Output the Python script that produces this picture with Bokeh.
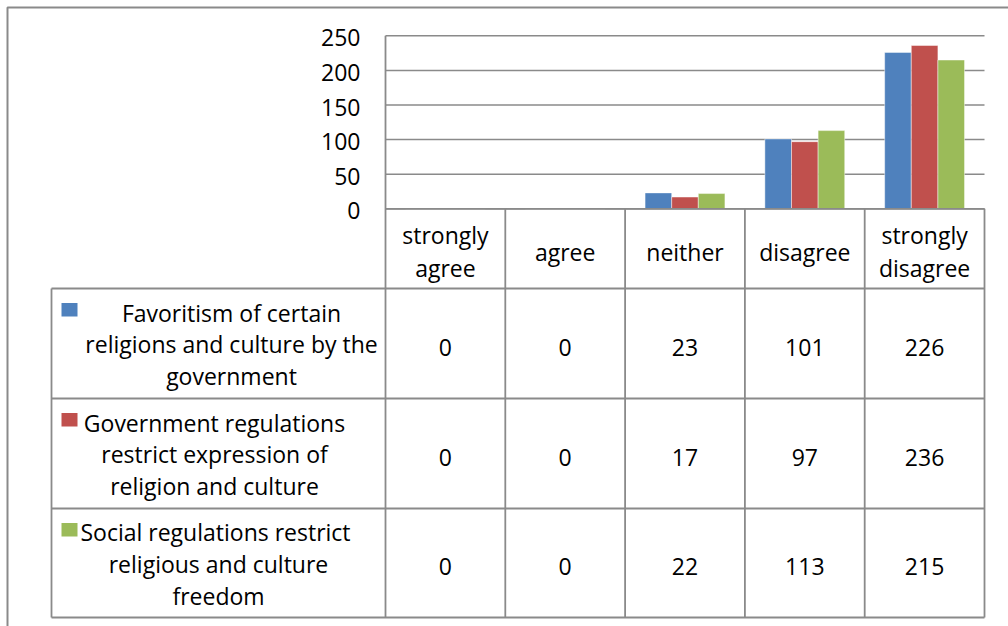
from bokeh.plotting import figure
from bokeh.models import Range1d
from bokeh.core.properties import value
from bokeh.embed import file_html
from bokeh.resources import INLINE

# ---------------- data ----------------
categories = ["strongly\nagree", "agree", "neither", "disagree", "strongly\ndisagree"]
series_labels = [
    "Favoritism of certain\nreligions and culture by the\ngovernment",
    "Government regulations\nrestrict expression of\nreligion and culture",
    "Social regulations  restrict\nreligious and culture\nfreedom",
]
favoritism = [0, 0, 23, 101, 226]
gov_regulations = [0, 0, 17, 97, 236]
social_regulations = [0, 0, 22, 113, 215]
y_ticks = [0, 50, 100, 150, 200, 250]
colors = ["#4F81BD", "#C0504D", "#9BBB59"]

series_values = [favoritism, gov_regulations, social_regulations]

# ---------------- layout (pixels) ----------------
W, H = 1008, 626
PX_LEFT = 385.0      # left edge of plot area (category 0 start)
CAT_W = 119.8        # pixel width per category
PX_ZERO = 208.3      # pixel row of value 0
PX_PER_VAL = 0.692   # pixels per unit value

def fx(px):
    return (px - PX_LEFT) / CAT_W

def fy(py):
    return (PX_ZERO - py) / PX_PER_VAL

FONT = value("Open Sans")
FS = "23px"
LINE = "#8a8a8a"
TXT = "#000000"
LH_HEAD = 1.04
LH_LABEL = 0.985

p = figure(width=W, height=H, output_backend="svg", toolbar_location=None,
           x_range=Range1d(fx(0), fx(W)), y_range=Range1d(fy(H), fy(0)),
           x_axis_type=None, y_axis_type=None, min_border=0,
           outline_line_color=None, background_fill_color="white",
           border_fill_color="white")
p.grid.visible = False

n_cat = len(categories)
n_ser = len(series_values)

# gridlines
p.segment(x0=[0] * len(y_ticks), x1=[n_cat] * len(y_ticks), y0=y_ticks, y1=y_ticks,
          line_color=LINE, line_width=1.5)

# y tick labels
p.text(x=[fx(360)] * len(y_ticks), y=y_ticks, text=[str(t) for t in y_ticks],
       text_align="right", text_baseline="middle", text_font=FONT,
       text_font_size=FS, text_color=TXT, y_offset=2)

# bars
bar_w = (CAT_W / 4.5) / CAT_W
for s, vals in enumerate(series_values):
    off = (s - (n_ser - 1) / 2) * bar_w
    p.vbar(x=[i + 0.5 + off for i in range(n_cat)], width=bar_w, top=vals, bottom=0,
           fill_color=colors[s], line_color="white", line_alpha=0.45, line_width=1)

# ---------------- data table ----------------
row_edges_px = [288, 398, 508, 617]
legend_left_px = 51

# category axis line (value 0), drawn over bars
p.segment(x0=[0], x1=[n_cat], y0=[0], y1=[0], line_color=LINE, line_width=1.8)

# horizontal lines of table
hx0 = [fx(legend_left_px)] * len(row_edges_px)
hx1 = [n_cat] * len(row_edges_px)
p.segment(x0=hx0, x1=hx1, y0=[fy(r) for r in row_edges_px], y1=[fy(r) for r in row_edges_px],
          line_color=LINE, line_width=1.8)
# vertical lines: category boundaries through header & rows
p.segment(x0=list(range(1, n_cat + 1)), x1=list(range(1, n_cat + 1)),
          y0=[0] * n_cat, y1=[fy(row_edges_px[-1])] * n_cat,
          line_color=LINE, line_width=1.8)
# value axis line continuing as table border
p.segment(x0=[0], x1=[0], y0=[max(y_ticks)], y1=[fy(row_edges_px[-1])],
          line_color=LINE, line_width=1.8)
# legend column left border
p.segment(x0=[fx(legend_left_px)], x1=[fx(legend_left_px)],
          y0=[fy(row_edges_px[0])], y1=[fy(row_edges_px[-1])],
          line_color=LINE, line_width=1.8)

# header category labels
p.text(x=[i + 0.5 for i in range(n_cat)], y=[fy(251)] * n_cat, text=categories,
       text_align="center", text_baseline="middle", text_font=FONT,
       text_font_size=FS, text_color=TXT, text_line_height=LH_HEAD)

# rows
label_cx_px = [231, 214, 218]
for r, vals in enumerate(series_values):
    top_px = row_edges_px[r]
    bot_px = row_edges_px[r + 1]
    cy = (top_px + bot_px) / 2
    # legend key
    p.quad(left=[fx(61)], right=[fx(77)], top=[fy(top_px + 14.5)], bottom=[fy(top_px + 28)],
           fill_color=colors[r], line_color=None)
    # series label
    p.text(x=[fx(label_cx_px[r])], y=[fy(cy + 1.0)], text=[series_labels[r]],
           text_align="center", text_baseline="middle", text_font=FONT,
           text_font_size=FS, text_color=TXT, text_line_height=LH_LABEL)
    # values
    p.text(x=[i + 0.5 for i in range(n_cat)], y=[fy(cy + 3.5)] * n_cat,
           text=[str(v) for v in vals], text_align="center", text_baseline="middle",
           text_font=FONT, text_font_size=FS, text_color=TXT)

# outer chart frame (left and top edges visible)
p.line(x=[fx(7), fx(7), fx(W + 20)], y=[fy(H + 20), fy(7), fy(7)],
       line_color=LINE, line_width=2)

open("out.html", "w").write(file_html(p, INLINE))
